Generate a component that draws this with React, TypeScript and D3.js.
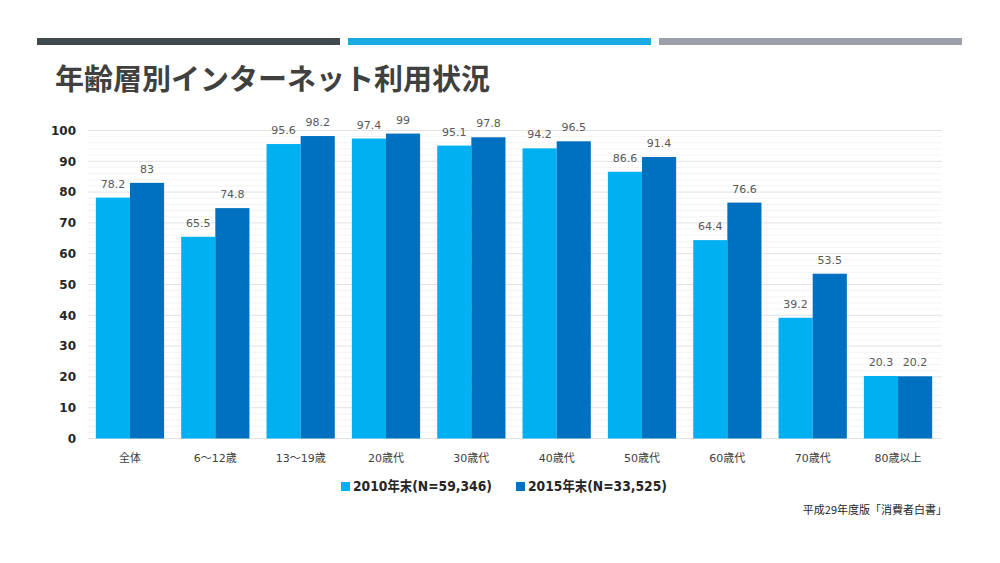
import React from "react";
import * as d3 from "d3";

const categories = ["全体", "6～12歳", "13～19歳", "20歳代", "30歳代", "40歳代", "50歳代", "60歳代", "70歳代", "80歳以上"];
const series2010 = [78.2, 65.5, 95.6, 97.4, 95.1, 94.2, 86.6, 64.4, 39.2, 20.3];
const series2015 = [83, 74.8, 98.2, 99, 97.8, 96.5, 91.4, 76.6, 53.5, 20.2];
const seriesNames = ["2010年末(N=59,346)", "2015年末(N=33,525)"];
const seriesColors = ["#00B0F0", "#0070C0"];
const yTicks = [0, 10, 20, 30, 40, 50, 60, 70, 80, 90, 100];
const minorTicks = d3.range(0, 101, 2);
const title = "年齢層別インターネット利用状況";
const source = "平成29年度版「消費者白書」";

const FONT = "'DejaVu Sans', 'Noto Sans CJK JP', sans-serif";
const JFONT = "'Noto Sans CJK JP', 'DejaVu Sans', sans-serif";

export default function App() {
  const W = 1000, H = 563;
  const left = 87.3, right = 940.7, top = 130.5, bottom = 438.5;
  const x = d3.scaleBand<string>().domain(categories).range([left, right]).paddingInner(0.2).paddingOuter(0.1);
  const sub = d3.scaleBand<string>().domain(["a", "b"]).range([0, x.bandwidth()]);
  const y = d3.scaleLinear().domain([0, 100]).range([bottom, top]);
  const data = [series2010, series2015];

  return (
    <svg width={W} height={H} style={{ position: "absolute", left: 0, top: 0, background: "#fff" }}>
      <rect x={0} y={0} width={W} height={H} fill="#fff" />
      <rect x={37} y={38} width={303} height={7} fill="#404A4F" />
      <rect x={348} y={38} width={303} height={7} fill="#1BA9E1" />
      <rect x={659} y={38} width={303} height={7} fill="#9A9FA8" />
      <text x={55} y={90} fontFamily={JFONT} fontWeight="bold" fontSize={29} fill="#404040">{title}</text>

      {minorTicks.filter(t => t % 10 !== 0).map(t => (
        <line key={"m" + t} x1={88} x2={942} y1={y(t)} y2={y(t)} stroke="#F4F4F4" strokeWidth={1} />
      ))}
      {yTicks.map(t => (
        <line key={"g" + t} x1={88} x2={942} y1={y(t)} y2={y(t)} stroke="#E2E2E2" strokeWidth={1} />
      ))}
      {yTicks.map(t => (
        <text key={"t" + t} x={76} y={y(t)} dy="0.35em" textAnchor="end" fontFamily={FONT} fontWeight="bold" fontSize={12} fill="#262626">{t}</text>
      ))}

      {categories.map((c, i) => (
        <g key={c}>
          {data.map((s, j) => {
            const bx = (x(c) as number) + (sub(j === 0 ? "a" : "b") as number);
            return (
              <g key={j}>
                <rect x={bx} y={y(s[i])} width={sub.bandwidth()} height={bottom - y(s[i])} fill={seriesColors[j]} />
                <text x={bx + sub.bandwidth() / 2} y={y(s[i]) - 10} textAnchor="middle" fontFamily={FONT} fontSize={11} fill="#595959">{s[i]}</text>
              </g>
            );
          })}
          <text x={(x(c) as number) + x.bandwidth() / 2} y={462} textAnchor="middle" fontFamily={FONT} fontSize={11} fill="#404040">{c}</text>
        </g>
      ))}

      {seriesNames.map((n, j) => {
        const lx = j === 0 ? 341 : 516;
        return (
          <g key={n}>
            <rect x={lx} y={482} width={9} height={9} fill={seriesColors[j]} />
            <text x={lx + 12} y={491} fontFamily={FONT} fontWeight="bold" fontSize={14} textLength={139} lengthAdjust="spacingAndGlyphs" fill="#262626">{n}</text>
          </g>
        );
      })}

      <text x={947} y={514} textAnchor="end" fontFamily={JFONT} fontSize={11} fill="#262626">{source}</text>
    </svg>
  );
}
